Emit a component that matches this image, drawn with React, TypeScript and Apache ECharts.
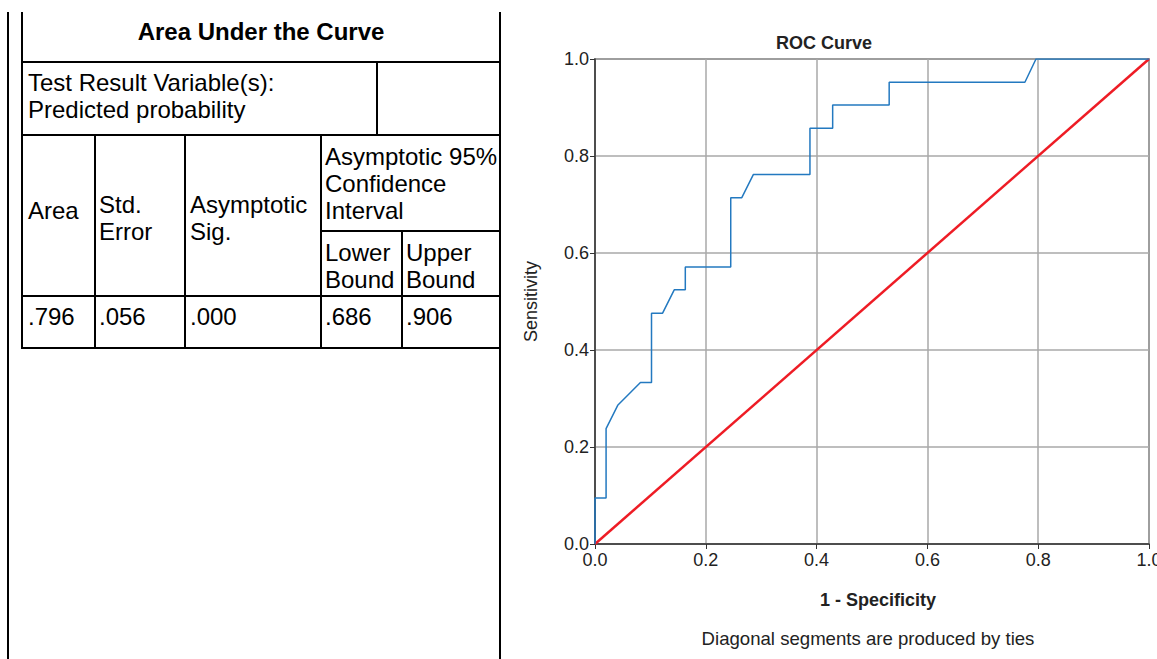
import React, { useEffect, useRef } from "react";
import * as echarts from "echarts";

// ROC curve points (1 - specificity, sensitivity)
const rocFpr = [
  0, 0, 0.02, 0.02, 0.041, 0.082, 0.102, 0.102, 0.122, 0.143, 0.163, 0.163, 0.245,
  0.245, 0.265, 0.286, 0.388, 0.388, 0.429, 0.429, 0.531, 0.531, 0.776, 0.796, 1.0,
];
const rocTpr = [
  0, 0.095, 0.095, 0.238, 0.286, 0.333, 0.333, 0.476, 0.476, 0.524, 0.524, 0.571, 0.571,
  0.714, 0.714, 0.762, 0.762, 0.857, 0.857, 0.905, 0.905, 0.952, 0.952, 1.0, 1.0,
];
// Reference (chance) line
const refX = [0, 1];
const refY = [0, 1];

// Table content
const tableTitle = "Area Under the Curve";
const testVarLines = ["Test Result Variable(s):", "Predicted probability"];
const headerArea = ["Area"];
const headerStdErr = ["Std.", "Error"];
const headerSig = ["Asymptotic", "Sig."];
const headerCI = ["Asymptotic 95%", "Confidence", "Interval"];
const headerLower = ["Lower", "Bound"];
const headerUpper = ["Upper", "Bound"];
const rowValues = [".796", ".056", ".000", ".686", ".906"];

const FONT = '"Liberation Sans", Arial, Helvetica, sans-serif';

type Ln = { x1: number; y1: number; x2: number; y2: number; w?: number };
const tableLines: Ln[] = [
  { x1: 8, y1: 12, x2: 8, y2: 659, w: 2.5 },
  { x1: 500, y1: 12, x2: 500, y2: 659, w: 2.5 },
  { x1: 22, y1: 12, x2: 22, y2: 348, w: 2 },
  { x1: 22, y1: 62, x2: 500, y2: 62 },
  { x1: 22, y1: 135, x2: 500, y2: 135 },
  { x1: 22, y1: 296, x2: 500, y2: 296 },
  { x1: 22, y1: 347.5, x2: 500, y2: 347.5 },
  { x1: 377, y1: 62, x2: 377, y2: 135 },
  { x1: 95, y1: 135, x2: 95, y2: 347 },
  { x1: 185, y1: 135, x2: 185, y2: 347 },
  { x1: 321, y1: 135, x2: 321, y2: 347 },
  { x1: 402, y1: 231, x2: 402, y2: 347 },
  { x1: 321, y1: 231, x2: 500, y2: 231 },
];

const LH = 27;

function TextBlock(props: { lines: string[]; left: number; firstCenter: number; bold?: boolean }) {
  return (
    <div
      style={{
        position: "absolute",
        left: props.left,
        top: props.firstCenter - LH / 2,
        fontFamily: FONT,
        fontSize: 24,
        lineHeight: LH + "px",
        fontWeight: props.bold ? "bold" : "normal",
        color: "#000",
        whiteSpace: "nowrap",
      }}
    >
      {props.lines.map((l, i) => (
        <div key={i}>{l}</div>
      ))}
    </div>
  );
}

function Table() {
  const colLefts = [28, 99, 190, 325, 406];
  return (
    <div style={{ position: "absolute", left: 0, top: 0, width: 520, height: 659, pointerEvents: "none" }}>
      {tableLines.map((l, i) => {
        const w = l.w ?? 2;
        const horiz = l.y1 === l.y2;
        return (
          <div
            key={i}
            style={{
              position: "absolute",
              background: "#000",
              left: l.x1 - w / 2,
              top: horiz ? l.y1 - w / 2 : l.y1,
              width: horiz ? l.x2 - l.x1 + w : w,
              height: horiz ? w : l.y2 - l.y1,
            }}
          />
        );
      })}
      <div
        style={{
          position: "absolute",
          left: 22,
          width: 478,
          top: 31.5 - LH / 2,
          textAlign: "center",
          fontFamily: FONT,
          fontSize: 24,
          fontWeight: "bold",
          lineHeight: LH + "px",
          whiteSpace: "nowrap",
        }}
      >
        {tableTitle}
      </div>
      <TextBlock lines={testVarLines} left={28} firstCenter={82} />
      <TextBlock lines={headerArea} left={28} firstCenter={210} />
      <TextBlock lines={headerStdErr} left={99} firstCenter={204} />
      <TextBlock lines={headerSig} left={190} firstCenter={204} />
      <TextBlock lines={headerCI} left={325} firstCenter={156} />
      <TextBlock lines={headerLower} left={325} firstCenter={252} />
      <TextBlock lines={headerUpper} left={406} firstCenter={252} />
      {rowValues.map((v, i) => (
        <TextBlock key={i} lines={[v]} left={colLefts[i]} firstCenter={316} />
      ))}
    </div>
  );
}

export default function App() {
  const ref = useRef<HTMLDivElement>(null);

  useEffect(() => {
    if (!ref.current) return;
    const chart = echarts.init(ref.current, undefined, { renderer: "svg" });
    const rocData = rocFpr.map((x, i) => [x, rocTpr[i]]);
    const refData = refX.map((x, i) => [x, refY[i]]);
    const labelStyle = { fontSize: 18, color: "#222", fontFamily: FONT };
    chart.setOption({
      animation: false,
      backgroundColor: "#fff",
      grid: {
        left: 595,
        top: 59,
        width: 554,
        height: 485,
        show: true,
        borderColor: "#555",
        borderWidth: 1.5,
        backgroundColor: "transparent",
        containLabel: false,
        outerBoundsMode: "none",
      },
      xAxis: {
        type: "value",
        min: 0,
        max: 1,
        interval: 0.2,
        name: "1 - Specificity",
        nameLocation: "middle",
        nameGap: 47,
        nameTextStyle: {
          fontSize: 18,
          fontWeight: "bold",
          color: "#222",
          fontFamily: FONT,
          padding: [0, 0, 0, 12],
        },
        axisLine: { show: true, lineStyle: { color: "#333", width: 1.5 } },
        axisTick: { show: true, length: 5, lineStyle: { color: "#333", width: 1 } },
        axisLabel: {
          ...labelStyle,
          margin: 7,
          showMinLabel: true,
          showMaxLabel: true,
          formatter: (v: number) => v.toFixed(1),
        },
        splitLine: { show: true, lineStyle: { color: "#a8a8a8", width: 1.5 } },
      },
      yAxis: {
        type: "value",
        min: 0,
        max: 1,
        interval: 0.2,
        name: "Sensitivity",
        nameLocation: "middle",
        nameGap: 55,
        nameTextStyle: { fontSize: 18, color: "#222", fontFamily: FONT },
        axisLine: { show: true, lineStyle: { color: "#333", width: 1.5 } },
        axisTick: { show: true, length: 5, lineStyle: { color: "#333", width: 1 } },
        axisLabel: {
          ...labelStyle,
          margin: 6,
          padding: [5, 0, 0, 0],
          showMinLabel: true,
          showMaxLabel: true,
          formatter: (v: number) => v.toFixed(1),
        },
        splitLine: { show: true, lineStyle: { color: "#a8a8a8", width: 1.5 } },
      },
      series: [
        {
          name: "Reference Line",
          type: "line",
          data: refData,
          symbol: "none",
          lineStyle: { color: "#ee1c25", width: 2.5 },
          z: 2,
        },
        {
          name: "ROC",
          type: "line",
          data: rocData,
          symbol: "none",
          lineStyle: { color: "#2379c0", width: 1.5 },
          z: 3,
        },
      ],
      graphic: [
        {
          type: "text",
          x: 824,
          y: 43,
          style: {
            text: "ROC Curve",
            align: "center",
            verticalAlign: "middle",
            font: `bold 18px ${FONT}`,
            fill: "#222",
          },
        },
        {
          type: "text",
          x: 868,
          y: 638,
          style: {
            text: "Diagonal segments are produced by ties",
            align: "center",
            verticalAlign: "middle",
            font: `18.6px ${FONT}`,
            fill: "#222",
          },
        },
      ],
    });
    return () => chart.dispose();
  }, []);

  return (
    <div
      style={{
        position: "fixed",
        left: 0,
        top: 0,
        width: 1157,
        height: 659,
        overflow: "hidden",
        background: "#fff",
      }}
    >
      <div ref={ref} style={{ position: "absolute", left: 0, top: 0, width: 1157, height: 659 }} />
      <Table />
    </div>
  );
}
